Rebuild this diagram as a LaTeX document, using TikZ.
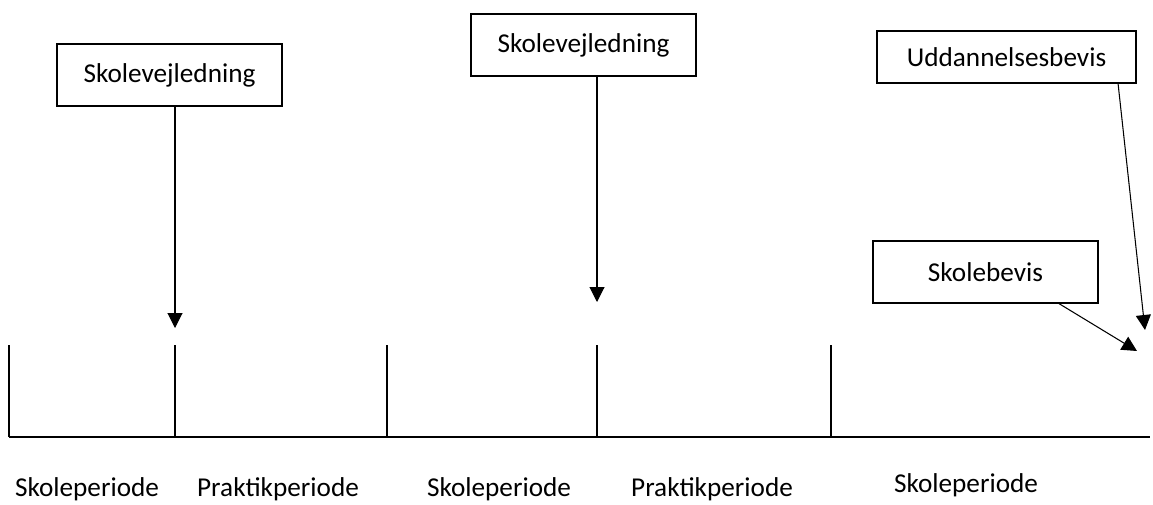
\documentclass[tikz,border=0pt]{standalone}
\usepackage{fontspec}
\setmainfont{Carlito}
\usetikzlibrary{arrows.meta}

\tikzset{
  infobox/.style={draw, line width=0.9pt, minimum width=4.5cm, minimum height=1.24cm,
    inner sep=0pt, font=\fontsize{15.5}{18}\selectfont},
  pointer/.style={line width=0.6pt, -{Triangle[length=0.3cm,width=0.3cm]}},
  period/.style={anchor=base, font=\fontsize{15.5}{18}\selectfont}
}

\begin{document}
\begin{tikzpicture}[x=0.02cm, y=-0.02cm]
  \useasboundingbox (0,0) rectangle (1153,504);

  \node[infobox] (sv1) at (169.5, 75) {Skolevejledning};
  \node[infobox] (sv2) at (583.5, 45) {Skolevejledning};
  \node[infobox, minimum width=5.18cm, minimum height=1.04cm] (ub) at (1006.5, 57) {Uddannelsesbevis};
  \node[infobox] (sb) at (985.5, 272) {Skolebevis};

  \coordinate (sv1end) at (175, 328);
  \coordinate (sv2end) at (597, 302);
  \coordinate (ubend) at (1145, 330);
  \coordinate (sbend) at (1137, 351);

  \draw[pointer] (sv1.south -| sv1end) -- (sv1end);
  \draw[pointer] (sv2.south -| sv2end) -- (sv2end);
  \draw[pointer] (1118, 83) -- (ubend);
  \draw[pointer] (1058, 303) -- (sbend);

  \foreach \x in {9,175,387,597,831} {
    \draw[line width=0.6pt] (\x, 345) -- (\x, 437);
  }
  \draw[line width=0.6pt] (9, 437) -- (1150, 437);

  \node[period] (p1) at (87, 496) {Skoleperiode};
  \node[period] (p2) at (278, 496) {Praktikperiode};
  \node[period] (p3) at (499, 496) {Skoleperiode};
  \node[period] (p4) at (712, 496) {Praktikperiode};
  \node[period] (p5) at (966, 492) {Skoleperiode};
\end{tikzpicture}
\end{document}
